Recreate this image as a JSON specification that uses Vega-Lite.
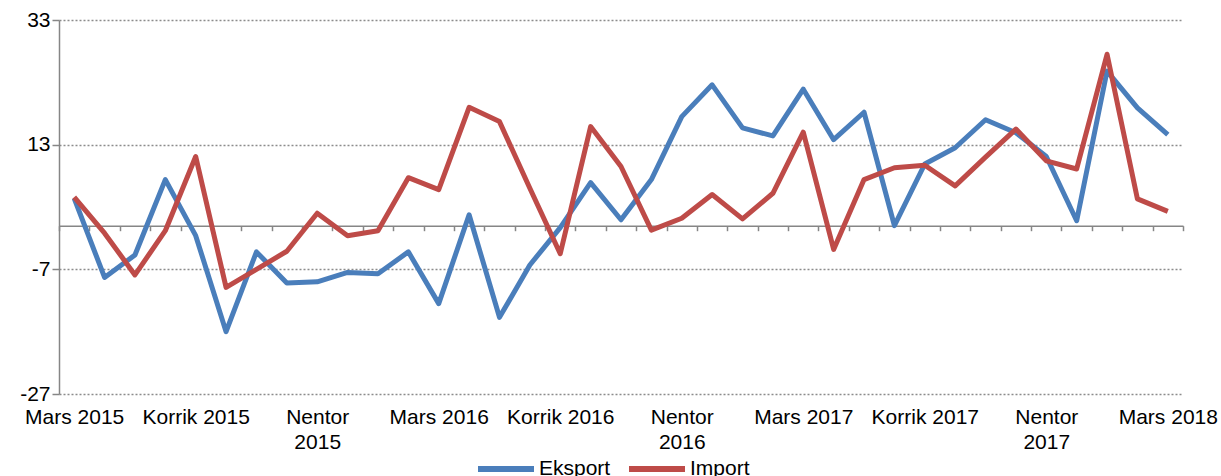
{
  "$schema": "https://vega.github.io/schema/vega-lite/v6.json",
  "width": 1124,
  "height": 374,
  "autosize": {"type": "none"},
  "padding": {"left": 59, "top": 20, "right": 38, "bottom": 82},
  "config": {"view": {"stroke": null}, "font": "Liberation Sans"},
  "data": {"values": [
    {"muaji": "Mars 2015", "Eksport": 4.4, "Import": 4.6},
    {"muaji": "Prill 2015", "Eksport": -8.3, "Import": -1.2},
    {"muaji": "Maj 2015", "Eksport": -4.7, "Import": -7.9},
    {"muaji": "Qershor 2015", "Eksport": 7.4, "Import": -0.8},
    {"muaji": "Korrik 2015", "Eksport": -1.6, "Import": 11.1},
    {"muaji": "Gusht 2015", "Eksport": -17.0, "Import": -9.9},
    {"muaji": "Shtator 2015", "Eksport": -4.2, "Import": -7.0},
    {"muaji": "Tetor 2015", "Eksport": -9.2, "Import": -4.1},
    {"muaji": "Nentor 2015", "Eksport": -9.0, "Import": 2.0},
    {"muaji": "Dhjetor 2015", "Eksport": -7.5, "Import": -1.6},
    {"muaji": "Janar 2016", "Eksport": -7.7, "Import": -0.8},
    {"muaji": "Shkurt 2016", "Eksport": -4.2, "Import": 7.7},
    {"muaji": "Mars 2016", "Eksport": -12.5, "Import": 5.8},
    {"muaji": "Prill 2016", "Eksport": 1.75, "Import": 19.0},
    {"muaji": "Maj 2016", "Eksport": -14.7, "Import": 16.7},
    {"muaji": "Qershor 2016", "Eksport": -6.3, "Import": 6.0},
    {"muaji": "Korrik 2016", "Eksport": -0.3, "Import": -4.5},
    {"muaji": "Gusht 2016", "Eksport": 6.9, "Import": 15.9},
    {"muaji": "Shtator 2016", "Eksport": 0.95, "Import": 9.5},
    {"muaji": "Tetor 2016", "Eksport": 7.4, "Import": -0.7},
    {"muaji": "Nentor 2016", "Eksport": 17.5, "Import": 1.2},
    {"muaji": "Dhjetor 2016", "Eksport": 22.6, "Import": 5.0},
    {"muaji": "Janar 2017", "Eksport": 15.7, "Import": 1.1},
    {"muaji": "Shkurt 2017", "Eksport": 14.4, "Import": 5.2},
    {"muaji": "Mars 2017", "Eksport": 21.9, "Import": 15.0},
    {"muaji": "Prill 2017", "Eksport": 13.8, "Import": -3.8},
    {"muaji": "Maj 2017", "Eksport": 18.2, "Import": 7.4},
    {"muaji": "Qershor 2017", "Eksport": 0.0, "Import": 9.3},
    {"muaji": "Korrik 2017", "Eksport": 9.9, "Import": 9.7},
    {"muaji": "Gusht 2017", "Eksport": 12.5, "Import": 6.4},
    {"muaji": "Shtator 2017", "Eksport": 17.0, "Import": 11.0},
    {"muaji": "Tetor 2017", "Eksport": 14.9, "Import": 15.5},
    {"muaji": "Nentor 2017", "Eksport": 11.1, "Import": 10.4},
    {"muaji": "Dhjetor 2017", "Eksport": 0.8, "Import": 9.1},
    {"muaji": "Janar 2018", "Eksport": 24.8, "Import": 27.5},
    {"muaji": "Shkurt 2018", "Eksport": 18.9, "Import": 4.3},
    {"muaji": "Mars 2018", "Eksport": 14.6, "Import": 2.3}
  ]},
  "transform": [{"fold": ["Eksport", "Import"], "as": ["seria", "vlera"]}],
  "mark": {"type": "line", "strokeWidth": 5, "strokeJoin": "round"},
  "encoding": {
    "x": {
      "field": "muaji",
      "type": "ordinal",
      "sort": null,
      "scale": {"type": "band", "paddingInner": 0, "paddingOuter": 0},
      "axis": {
        "title": null,
        "offset": -168.3,
        "domainColor": "#868686",
        "domainWidth": 1.5,
        "tickColor": "#868686",
        "tickWidth": 1.5,
        "tickSize": 5,
        "tickBand": "extent",
        "labelAngle": 0,
        "labelOverlap": false,
        "labelFlush": false,
        "labelFontSize": 21,
        "labelColor": "#000000",
        "labelPadding": 176,
        "labelLineHeight": 24.5,
        "labelBaseline": "top",
        "grid": false,
        "labelExpr": "(split(datum.value, ' ')[0] == 'Mars' || split(datum.value, ' ')[0] == 'Korrik') ? datum.value : (split(datum.value, ' ')[0] == 'Nentor' ? split(datum.value, ' ') : '')"
      }
    },
    "y": {
      "field": "vlera",
      "type": "quantitative",
      "scale": {"domain": [-27, 33], "nice": false, "zero": false},
      "axis": {
        "title": null,
        "values": [-27, -7, 13, 33],
        "labelExpr": "'' + datum.value",
        "grid": true,
        "gridDash": [2, 2],
        "gridColor": "#8c8c8c",
        "gridWidth": 1.5,
        "domainColor": "#868686",
        "domainWidth": 1.5,
        "tickColor": "#868686",
        "tickWidth": 1.5,
        "tickSize": 7,
        "labelFontSize": 21,
        "labelColor": "#000000",
        "labelPadding": 2
      }
    },
    "color": {
      "field": "seria",
      "type": "nominal",
      "scale": {"domain": ["Eksport", "Import"], "range": ["#4A7EBB", "#BE4B48"]},
      "legend": {
        "title": null,
        "orient": "none",
        "legendX": 416,
        "legendY": 418,
        "padding": 0,
        "direction": "horizontal",
        "symbolType": "stroke",
        "symbolSize": 3136,
        "symbolStrokeWidth": 6,
        "labelFontSize": 21,
        "labelColor": "#000000",
        "labelOffset": 2,
        "columnPadding": 6
      }
    }
  }
}
